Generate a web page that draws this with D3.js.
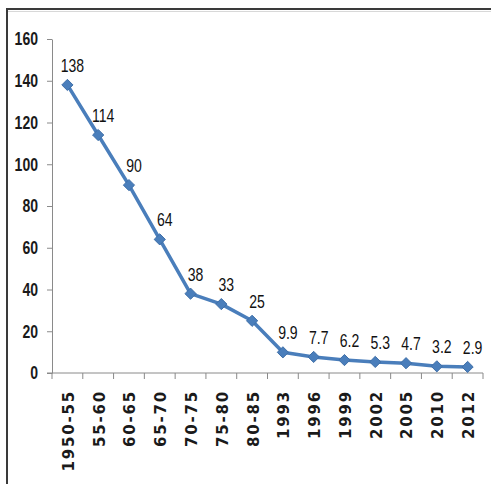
<!DOCTYPE html>
<html>
<head>
<meta charset="utf-8">
<script src="https://cdn.jsdelivr.net/npm/d3@7"></script>
<style>
  html, body { margin: 0; padding: 0; background: #fff; }
  svg { display: block; }
</style>
</head>
<body>
<svg id="chart" width="491" height="484"></svg>
<script>
// Periods / years along the horizontal axis
const categories = ["1950-55", "55-60", "60-65", "65-70", "70-75", "75-80", "80-85",
                    "1993", "1996", "1999", "2002", "2005", "2010", "2012"];
// Series values shown at each point
const values = [138, 114, 90, 64, 38, 33, 25, 9.9, 7.7, 6.2, 5.3, 4.7, 3.2, 2.9];
// Vertical axis ticks
const yTicks = [0, 20, 40, 60, 80, 100, 120, 140, 160];

const svg = d3.select("#chart");
const W = 491, H = 484;
const plot = { left: 52, right: 483, top: 39, bottom: 373 };
const narrow = 0.78; // horizontal squeeze for the condensed-looking numerals
const numFont = "'Liberation Sans', Arial, sans-serif";

// outer frame (top and left edges)
svg.append("path")
  .attr("d", `M7,${H} V9 H${W}`)
  .attr("fill", "none")
  .attr("stroke", "#3a3a3a")
  .attr("stroke-width", 2);
svg.append("line")
  .attr("x1", 8).attr("x2", W).attr("y1", 11.5).attr("y2", 11.5)
  .attr("stroke", "#d8d8d8").attr("stroke-width", 1);

const x = d3.scaleBand().domain(categories).range([plot.left, plot.right]);
const y = d3.scaleLinear().domain([0, 160]).range([plot.bottom, plot.top]);

const axisColor = "#8a8a8a";

// y axis
const yAxis = svg.append("g")
  .attr("transform", `translate(${plot.left},0)`)
  .call(d3.axisLeft(y).tickValues(yTicks).tickSize(5).tickSizeOuter(0));
yAxis.select(".domain").attr("stroke", axisColor);
yAxis.selectAll(".tick line").attr("stroke", axisColor);
yAxis.selectAll(".tick text")
  .attr("x", 0)
  .attr("transform", `translate(-14,0) scale(${narrow},1)`)
  .attr("fill", "#1a1a1a")
  .style("font-family", numFont)
  .style("font-weight", "bold")
  .style("font-size", "18px");

// x axis with ticks between categories
const xAxisG = svg.append("g").attr("transform", `translate(0,${plot.bottom})`);
xAxisG.append("line")
  .attr("x1", plot.left - 5).attr("x2", plot.right)
  .attr("stroke", axisColor);
const bounds = categories.map(c => x(c)).concat([plot.right]);
xAxisG.selectAll("line.tk")
  .data(bounds)
  .join("line")
  .attr("class", "tk")
  .attr("x1", d => d).attr("x2", d => d)
  .attr("y1", 0).attr("y2", 6)
  .attr("stroke", axisColor);
xAxisG.selectAll("text")
  .data(categories)
  .join("text")
  .attr("transform", d => `translate(${x(d) + x.bandwidth() / 2 + 1},17) rotate(-90)`)
  .attr("text-anchor", "end")
  .attr("dy", "0.36em")
  .attr("fill", "#1a1a1a")
  .style("font-family", "'DejaVu Sans', Verdana, sans-serif")
  .style("font-weight", "bold")
  .style("font-size", "15px")
  .style("letter-spacing", "1.8px")
  .text(d => d);

// data line
const pts = categories.map((c, i) => ({ c, v: values[i] }));
const cx = d => x(d.c) + x.bandwidth() / 2;
const line = d3.line().x(cx).y(d => y(d.v));
svg.append("path")
  .datum(pts)
  .attr("d", line)
  .attr("fill", "none")
  .attr("stroke", "#4a7ebb")
  .attr("stroke-width", 3.5)
  .attr("stroke-linejoin", "round");

// diamond markers
svg.selectAll("path.marker")
  .data(pts)
  .join("path")
  .attr("class", "marker")
  .attr("d", d3.symbol().type(d3.symbolDiamond2).size(80))
  .attr("transform", d => `translate(${cx(d)},${y(d.v)})`)
  .attr("fill", "#4a7ebb")
  .attr("stroke", "#3f6fa8")
  .attr("stroke-width", 1);

// value labels
svg.selectAll("text.val")
  .data(pts)
  .join("text")
  .attr("class", "val")
  .attr("transform", d => `translate(${cx(d) + 5},${y(d.v) - 13}) scale(${narrow},1)`)
  .attr("text-anchor", "middle")
  .attr("fill", "#111")
  .style("font-family", numFont)
  .style("font-size", "18px")
  .text(d => d.v);
</script>
</body>
</html>
